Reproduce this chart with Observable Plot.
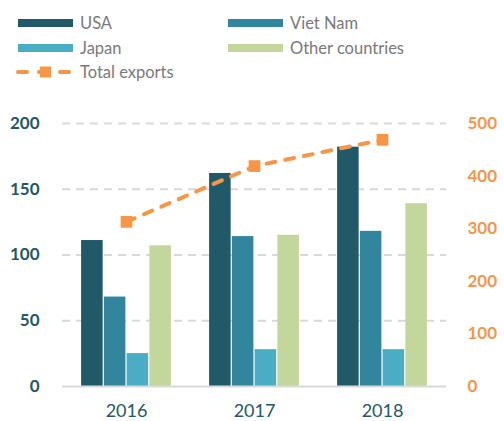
<!DOCTYPE html>
<html>
<head>
<meta charset="utf-8">
<script src="https://cdn.jsdelivr.net/npm/d3@7"></script>
<script src="https://cdn.jsdelivr.net/npm/@observablehq/plot@0.6"></script>
<style>
  html, body { margin: 0; padding: 0; background: #fff; }
  body { width: 504px; height: 421px; overflow: hidden; font-family: Lato, "Open Sans", sans-serif; }
  #legend { position: relative; width: 504px; height: 95px; }
  .item { position: absolute; display: flex; align-items: center; font-size: 16.5px; color: #7a7a7a; height: 20px; }
  .sw { width: 55px; height: 8px; margin-right: 7px; }
  #chart { display: block; }
</style>
</head>
<body>
<div id="legend"></div>
<div id="chart"></div>
<script>
const years = [2016, 2017, 2018];
const countries = ["USA", "Viet Nam", "Japan", "Other countries"];
const colors = ["#215968", "#31859C", "#4BACC6", "#C3D69B"];
const usa = [111, 162, 182];
const vietNam = [68, 114, 118];
const japan = [25, 28, 28];
const other = [107, 115, 139];
const totalExports = [313, 419, 469];
const leftTicks = [0, 50, 100, 150, 200];
const rightTicks = [0, 100, 200, 300, 400, 500];
const orange = "#F79646";

const seriesValues = [usa, vietNam, japan, other];
const bars = [];
years.forEach((year, j) => {
  countries.forEach((c, i) => {
    bars.push({year, country: c, index: i, value: seriesValues[i][j]});
  });
});
const totals = years.map((year, j) => ({year, total: totalExports[j]}));

// layout of grouped bars within a year (fraction of one year step)
const groupWidth = 0.711;
const slot = groupWidth / countries.length;
const ratio = 200 / 500; // right axis -> left axis

// Legend
const legend = document.getElementById("legend");
const legendPos = [
  {x: 18, y: 13}, {x: 228, y: 13}, {x: 18, y: 38}, {x: 228, y: 38}
];
countries.forEach((c, i) => {
  const d = document.createElement("div");
  d.className = "item";
  d.style.left = legendPos[i].x + "px";
  d.style.top = legendPos[i].y + "px";
  d.innerHTML = `<span class="sw" style="background:${colors[i]}"></span><span>${c}</span>`;
  legend.appendChild(d);
});
{
  const d = document.createElement("div");
  d.className = "item";
  d.style.left = "14px";
  d.style.top = "62px";
  d.innerHTML = `<svg width="62" height="14" style="margin-right:4px">
    <line x1="4" y1="7" x2="60" y2="7" stroke="${orange}" stroke-width="4" stroke-linecap="round" stroke-dasharray="9,12"/>
    <rect x="26" y="1.5" width="11" height="11" fill="${orange}"/>
  </svg><span>Total exports</span>`;
  legend.appendChild(d);
}

const chart = Plot.plot({
  width: 504,
  height: 326,
  marginLeft: 62,
  marginRight: 58,
  marginTop: 28,
  marginBottom: 35,
  style: {fontFamily: "Lato, 'Open Sans', sans-serif", background: "transparent"},
  x: {domain: [2015.5, 2018.5], axis: null},
  y: {domain: [0, 200], axis: null},
  color: {domain: countries, range: colors},
  marks: [
    Plot.ruleY(leftTicks.filter(d => d > 0), {stroke: "#d9d9d9", strokeWidth: 2, strokeDasharray: "8,6"}),
    Plot.rect(bars, {
      x1: d => d.year - groupWidth / 2 + d.index * slot,
      x2: d => d.year - groupWidth / 2 + (d.index + 1) * slot,
      y1: 0,
      y2: "value",
      fill: "country",
      insetLeft: 0.6,
      insetRight: 0.6
    }),
    Plot.ruleY([0], {stroke: "#d9d9d9", strokeWidth: 2}),
    Plot.line(totals, {x: "year", y: d => d.total * ratio, stroke: orange, strokeWidth: 4, strokeLinecap: "round", strokeDasharray: "9,10"}),
    Plot.dot(totals, {x: "year", y: d => d.total * ratio, symbol: "square", r: 6.6, fill: orange, stroke: "none"}),
    Plot.axisY(leftTicks, {anchor: "left", tickSize: 0, tickPadding: 23, fill: "#215968", fontWeight: "bold", fontSize: 17, label: null}),
    Plot.axisY(rightTicks.map(d => d * ratio), {anchor: "right", tickSize: 0, tickPadding: 21, tickFormat: d => Math.round(d / ratio), fill: orange, fontWeight: "bold", fontSize: 17, label: null}),
    Plot.axisX(years, {tickSize: 0, tickPadding: 18, tickFormat: d => String(d), fill: "#215968", fontSize: 18, label: null})
  ]
});
document.getElementById("chart").appendChild(chart);
</script>
</body>
</html>
